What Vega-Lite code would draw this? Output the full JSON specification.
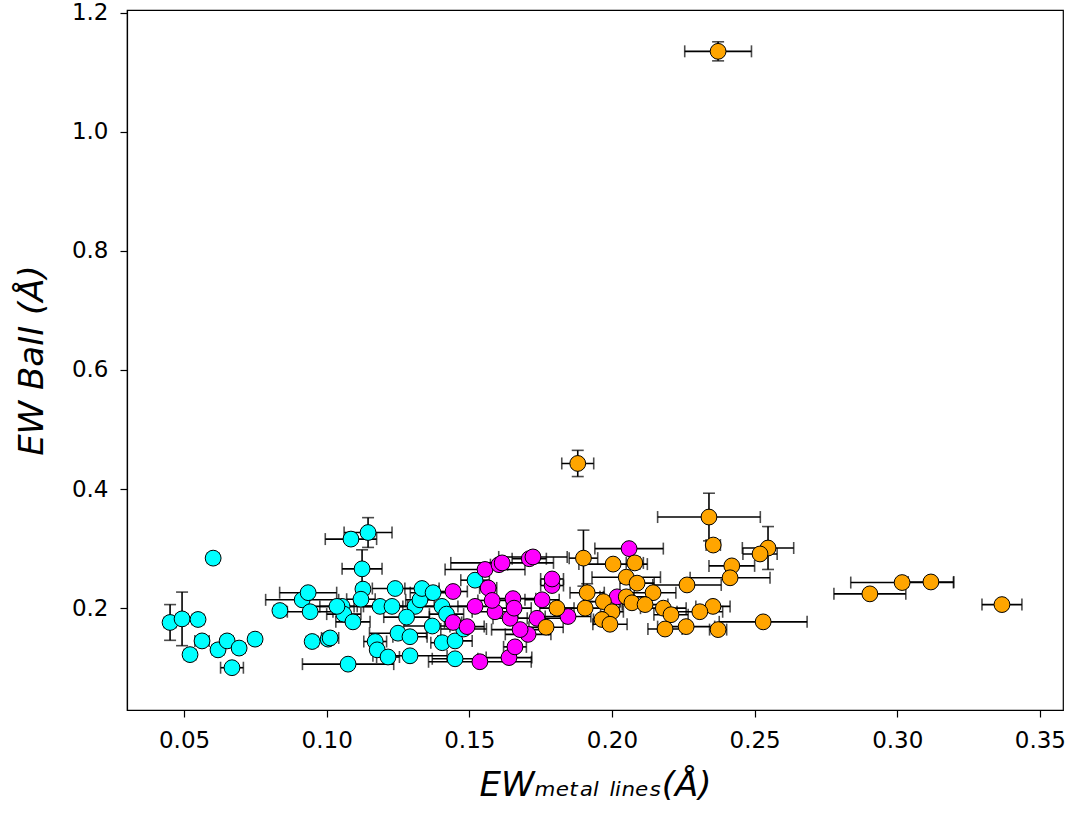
{
  "$schema": "https://vega.github.io/schema/vega-lite/v6.json",
  "width": 936,
  "height": 700,
  "autosize": "none",
  "padding": {"left": 127, "top": 10, "right": 10, "bottom": 103},
  "background": "white",
  "config": {
    "view": {"stroke": "black", "strokeWidth": 1.2},
    "axis": {
      "grid": false,
      "domainColor": "black",
      "domainWidth": 1.2,
      "tickColor": "black",
      "tickWidth": 1.2,
      "tickSize": 7,
      "labelFont": "DejaVu Sans",
      "labelFontSize": 23,
      "labelColor": "black",
      "titleFont": "DejaVu Sans",
      "titleFontSize": 34,
      "titleFontWeight": "normal",
      "titleFontStyle": "italic",
      "titleColor": "black"
    }
  },
  "data": {
    "values": [
      {"g": "cyan", "x": 0.0602, "y": 0.284, "xe": 0.002, "ye": 0.006},
      {"g": "cyan", "x": 0.0451, "y": 0.176, "xe": 0.002, "ye": 0.030},
      {"g": "cyan", "x": 0.0493, "y": 0.182, "xe": 0.002, "ye": 0.045},
      {"g": "cyan", "x": 0.0549, "y": 0.181, "xe": 0.002, "ye": 0.006},
      {"g": "cyan", "x": 0.0563, "y": 0.145, "xe": 0.0025, "ye": 0.005},
      {"g": "cyan", "x": 0.0521, "y": 0.122, "xe": 0.002, "ye": 0.006},
      {"g": "cyan", "x": 0.0619, "y": 0.130, "xe": 0.002, "ye": 0.006},
      {"g": "cyan", "x": 0.0651, "y": 0.145, "xe": 0.002, "ye": 0.003},
      {"g": "cyan", "x": 0.0693, "y": 0.133, "xe": 0.002, "ye": 0.007},
      {"g": "cyan", "x": 0.0749, "y": 0.148, "xe": 0.002, "ye": 0.006},
      {"g": "cyan", "x": 0.0668, "y": 0.100, "xe": 0.004, "ye": 0.004},
      {"g": "cyan", "x": 0.0836, "y": 0.196, "xe": 0.002, "ye": 0.004},
      {"g": "cyan", "x": 0.0914, "y": 0.214, "xe": 0.0128, "ye": 0.006},
      {"g": "cyan", "x": 0.0935, "y": 0.226, "xe": 0.010, "ye": 0.005},
      {"g": "cyan", "x": 0.0942, "y": 0.194, "xe": 0.008, "ye": 0.005},
      {"g": "cyan", "x": 0.0949, "y": 0.144, "xe": 0.002, "ye": 0.006},
      {"g": "cyan", "x": 0.1005, "y": 0.148, "xe": 0.002, "ye": 0.005},
      {"g": "cyan", "x": 0.1075, "y": 0.106, "xe": 0.016, "ye": 0.004},
      {"g": "cyan", "x": 0.1085, "y": 0.316, "xe": 0.009, "ye": 0.004},
      {"g": "cyan", "x": 0.1145, "y": 0.327, "xe": 0.0084, "ye": 0.025},
      {"g": "cyan", "x": 0.1124, "y": 0.266, "xe": 0.007, "ye": 0.032},
      {"g": "cyan", "x": 0.1054, "y": 0.203, "xe": 0.012, "ye": 0.005},
      {"g": "cyan", "x": 0.106, "y": 0.190, "xe": 0.006, "ye": 0.004},
      {"g": "cyan", "x": 0.1127, "y": 0.232, "xe": 0.002, "ye": 0.004},
      {"g": "cyan", "x": 0.1092, "y": 0.177, "xe": 0.006, "ye": 0.005},
      {"g": "cyan", "x": 0.1187, "y": 0.203, "xe": 0.008, "ye": 0.005},
      {"g": "cyan", "x": 0.1229, "y": 0.203, "xe": 0.010, "ye": 0.004},
      {"g": "cyan", "x": 0.124, "y": 0.233, "xe": 0.008, "ye": 0.005},
      {"g": "cyan", "x": 0.125, "y": 0.158, "xe": 0.010, "ye": 0.005},
      {"g": "cyan", "x": 0.1292, "y": 0.152, "xe": 0.006, "ye": 0.005},
      {"g": "cyan", "x": 0.117, "y": 0.144, "xe": 0.004, "ye": 0.005},
      {"g": "cyan", "x": 0.1177, "y": 0.130, "xe": 0.002, "ye": 0.008},
      {"g": "cyan", "x": 0.1215, "y": 0.118, "xe": 0.004, "ye": 0.004},
      {"g": "cyan", "x": 0.1292, "y": 0.120, "xe": 0.013, "ye": 0.004},
      {"g": "cyan", "x": 0.131, "y": 0.203, "xe": 0.010, "ye": 0.005},
      {"g": "cyan", "x": 0.1327, "y": 0.214, "xe": 0.005, "ye": 0.006},
      {"g": "cyan", "x": 0.1334, "y": 0.233, "xe": 0.006, "ye": 0.008},
      {"g": "cyan", "x": 0.1373, "y": 0.226, "xe": 0.008, "ye": 0.005},
      {"g": "cyan", "x": 0.1404, "y": 0.203, "xe": 0.012, "ye": 0.005},
      {"g": "cyan", "x": 0.1405, "y": 0.142, "xe": 0.004, "ye": 0.008},
      {"g": "cyan", "x": 0.145, "y": 0.145, "xe": 0.006, "ye": 0.005},
      {"g": "cyan", "x": 0.145, "y": 0.115, "xe": 0.008, "ye": 0.004},
      {"g": "cyan", "x": 0.152, "y": 0.247, "xe": 0.005, "ye": 0.006},
      {"g": "cyan", "x": 0.1036, "y": 0.203, "xe": 0.006, "ye": 0.005},
      {"g": "cyan", "x": 0.1012, "y": 0.150, "xe": 0.003, "ye": 0.005},
      {"g": "cyan", "x": 0.128, "y": 0.185, "xe": 0.008, "ye": 0.006},
      {"g": "cyan", "x": 0.137, "y": 0.170, "xe": 0.010, "ye": 0.006},
      {"g": "cyan", "x": 0.112, "y": 0.215, "xe": 0.005, "ye": 0.006},
      {"g": "cyan", "x": 0.142, "y": 0.190, "xe": 0.006, "ye": 0.005},
      {"g": "cyan", "x": 0.148, "y": 0.165, "xe": 0.008, "ye": 0.005},
      {"g": "magenta", "x": 0.1555, "y": 0.265, "xe": 0.014, "ye": 0.006},
      {"g": "magenta", "x": 0.1604, "y": 0.273, "xe": 0.003, "ye": 0.005},
      {"g": "magenta", "x": 0.171, "y": 0.283, "xe": 0.006, "ye": 0.004},
      {"g": "magenta", "x": 0.1566, "y": 0.234, "xe": 0.003, "ye": 0.006},
      {"g": "magenta", "x": 0.1443, "y": 0.228, "xe": 0.005, "ye": 0.005},
      {"g": "magenta", "x": 0.1653, "y": 0.216, "xe": 0.008, "ye": 0.006},
      {"g": "magenta", "x": 0.152, "y": 0.203, "xe": 0.006, "ye": 0.005},
      {"g": "magenta", "x": 0.159, "y": 0.194, "xe": 0.008, "ye": 0.005},
      {"g": "magenta", "x": 0.1443, "y": 0.176, "xe": 0.003, "ye": 0.006},
      {"g": "magenta", "x": 0.1492, "y": 0.169, "xe": 0.006, "ye": 0.005},
      {"g": "magenta", "x": 0.1537, "y": 0.110, "xe": 0.018, "ye": 0.004},
      {"g": "magenta", "x": 0.1639, "y": 0.117, "xe": 0.008, "ye": 0.006},
      {"g": "magenta", "x": 0.166, "y": 0.135, "xe": 0.004, "ye": 0.005},
      {"g": "magenta", "x": 0.1706, "y": 0.156, "xe": 0.008, "ye": 0.005},
      {"g": "magenta", "x": 0.1678, "y": 0.164, "xe": 0.010, "ye": 0.005},
      {"g": "magenta", "x": 0.1643, "y": 0.183, "xe": 0.006, "ye": 0.006},
      {"g": "magenta", "x": 0.1737, "y": 0.183, "xe": 0.010, "ye": 0.005},
      {"g": "magenta", "x": 0.1846, "y": 0.186, "xe": 0.008, "ye": 0.005},
      {"g": "magenta", "x": 0.1755, "y": 0.214, "xe": 0.006, "ye": 0.006},
      {"g": "magenta", "x": 0.179, "y": 0.238, "xe": 0.004, "ye": 0.006},
      {"g": "magenta", "x": 0.179, "y": 0.249, "xe": 0.004, "ye": 0.005},
      {"g": "magenta", "x": 0.1615, "y": 0.276, "xe": 0.018, "ye": 0.005},
      {"g": "magenta", "x": 0.1723, "y": 0.286, "xe": 0.012, "ye": 0.004},
      {"g": "magenta", "x": 0.206, "y": 0.300, "xe": 0.012, "ye": 0.004},
      {"g": "magenta", "x": 0.2018, "y": 0.219, "xe": 0.006, "ye": 0.005},
      {"g": "magenta", "x": 0.1657, "y": 0.200, "xe": 0.006, "ye": 0.005},
      {"g": "magenta", "x": 0.158, "y": 0.213, "xe": 0.005, "ye": 0.006},
      {"g": "orange", "x": 0.2372, "y": 1.135, "xe": 0.0117, "ye": 0.016},
      {"g": "orange", "x": 0.188, "y": 0.443, "xe": 0.0056, "ye": 0.022},
      {"g": "orange", "x": 0.234, "y": 0.353, "xe": 0.018, "ye": 0.04},
      {"g": "orange", "x": 0.2355, "y": 0.306, "xe": 0.0025, "ye": 0.005},
      {"g": "orange", "x": 0.2547, "y": 0.301, "xe": 0.009, "ye": 0.036},
      {"g": "orange", "x": 0.2519, "y": 0.291, "xe": 0.006, "ye": 0.005},
      {"g": "orange", "x": 0.242, "y": 0.271, "xe": 0.008, "ye": 0.006},
      {"g": "orange", "x": 0.2414, "y": 0.251, "xe": 0.014, "ye": 0.006},
      {"g": "orange", "x": 0.2263, "y": 0.239, "xe": 0.012, "ye": 0.005},
      {"g": "orange", "x": 0.2354, "y": 0.203, "xe": 0.006, "ye": 0.005},
      {"g": "orange", "x": 0.2308, "y": 0.194, "xe": 0.008, "ye": 0.006},
      {"g": "orange", "x": 0.226, "y": 0.169, "xe": 0.010, "ye": 0.005},
      {"g": "orange", "x": 0.2372, "y": 0.164, "xe": 0.003, "ye": 0.008},
      {"g": "orange", "x": 0.253, "y": 0.177, "xe": 0.0154, "ye": 0.004},
      {"g": "orange", "x": 0.3367, "y": 0.206, "xe": 0.007, "ye": 0.004},
      {"g": "orange", "x": 0.2904, "y": 0.224, "xe": 0.0126, "ye": 0.006},
      {"g": "orange", "x": 0.3017, "y": 0.243, "xe": 0.018, "ye": 0.005},
      {"g": "orange", "x": 0.3118, "y": 0.244, "xe": 0.008, "ye": 0.006},
      {"g": "orange", "x": 0.190, "y": 0.284, "xe": 0.005, "ye": 0.047},
      {"g": "orange", "x": 0.2004, "y": 0.274, "xe": 0.012, "ye": 0.004},
      {"g": "orange", "x": 0.208, "y": 0.276, "xe": 0.003, "ye": 0.010},
      {"g": "orange", "x": 0.205, "y": 0.252, "xe": 0.012, "ye": 0.006},
      {"g": "orange", "x": 0.2088, "y": 0.242, "xe": 0.006, "ye": 0.008},
      {"g": "orange", "x": 0.1913, "y": 0.226, "xe": 0.006, "ye": 0.015},
      {"g": "orange", "x": 0.2144, "y": 0.226, "xe": 0.008, "ye": 0.005},
      {"g": "orange", "x": 0.197, "y": 0.211, "xe": 0.006, "ye": 0.008},
      {"g": "orange", "x": 0.205, "y": 0.219, "xe": 0.008, "ye": 0.006},
      {"g": "orange", "x": 0.207, "y": 0.209, "xe": 0.006, "ye": 0.005},
      {"g": "orange", "x": 0.2116, "y": 0.206, "xe": 0.008, "ye": 0.006},
      {"g": "orange", "x": 0.1807, "y": 0.200, "xe": 0.006, "ye": 0.005},
      {"g": "orange", "x": 0.1906, "y": 0.200, "xe": 0.012, "ye": 0.004},
      {"g": "orange", "x": 0.218, "y": 0.200, "xe": 0.008, "ye": 0.005},
      {"g": "orange", "x": 0.2207, "y": 0.189, "xe": 0.006, "ye": 0.005},
      {"g": "orange", "x": 0.200, "y": 0.194, "xe": 0.004, "ye": 0.006},
      {"g": "orange", "x": 0.1965, "y": 0.181, "xe": 0.003, "ye": 0.008},
      {"g": "orange", "x": 0.1993, "y": 0.173, "xe": 0.006, "ye": 0.005},
      {"g": "orange", "x": 0.1769, "y": 0.168, "xe": 0.006, "ye": 0.006},
      {"g": "orange", "x": 0.2186, "y": 0.165, "xe": 0.006, "ye": 0.005}
    ]
  },
  "encoding": {
    "x": {"field": "x", "type": "quantitative", "scale": {"domain": [0.030, 0.3581], "nice": false, "zero": false},
          "title": "EWₘₑₜₐₗ ₗᵢₙₑₛ(Å)",
          "axis": {"values": [0.05, 0.10, 0.15, 0.20, 0.25, 0.30, 0.35], "format": ".2f", "labelFontSize": 23, "labelPadding": 12, "titlePadding": 16}},
    "y": {"field": "y", "type": "quantitative", "scale": {"domain": [0.029, 1.2044], "nice": false, "zero": false},
          "title": "EW BaII (Å)",
          "axis": {"values": [0.2, 0.4, 0.6, 0.8, 1.0, 1.2], "format": ".1f", "labelFontSize": 23, "labelPadding": 12, "titlePadding": 22}}
  },
  "layer": [
    {
      "mark": {"type": "errorbar", "color": "black", "thickness": 1.6, "ticks": {"size": 12, "thickness": 1.6, "color": "black"}},
      "encoding": {"xError": {"field": "xe"}}
    },
    {
      "mark": {"type": "errorbar", "color": "black", "thickness": 1.6, "ticks": {"size": 12, "thickness": 1.6, "color": "black"}},
      "encoding": {"yError": {"field": "ye"}}
    },
    {
      "mark": {"type": "point", "shape": "circle", "filled": true, "size": 250, "stroke": "black", "strokeWidth": 1, "opacity": 1},
      "encoding": {
        "color": {"field": "g", "type": "nominal", "scale": {"domain": ["cyan", "magenta", "orange"], "range": ["#00FFFF", "#FF00FF", "#FFA500"]}, "legend": null}
      }
    }
  ]
}
